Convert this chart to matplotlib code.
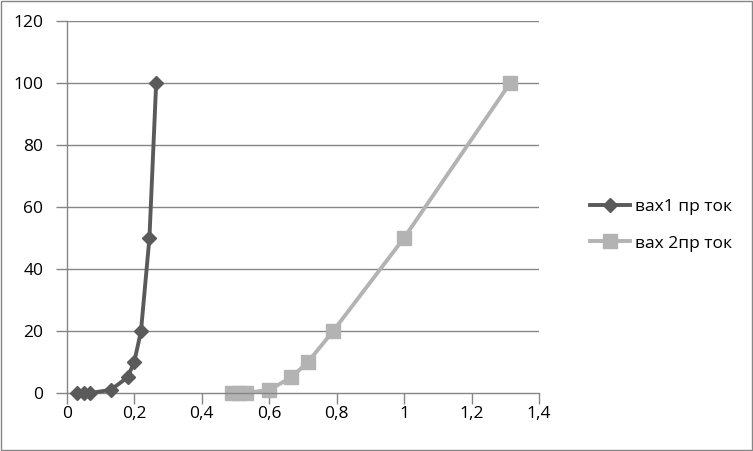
import matplotlib.pyplot as plt
import matplotlib as mpl
from matplotlib.patches import Rectangle

mpl.rcParams["font.family"] = ["Open Sans", "DejaVu Sans"]

# вах1 пр ток
x1 = [0.03, 0.05, 0.07, 0.13, 0.18, 0.20, 0.22, 0.245, 0.265]
y1 = [0, 0, 0, 1, 5, 10, 20, 50, 100]
# вах 2пр ток
x2 = [0.49, 0.51, 0.53, 0.60, 0.665, 0.715, 0.79, 1.00, 1.315]
y2 = [0, 0, 0, 1, 5, 10, 20, 50, 100]

labels = ["вах1 пр ток", "вах 2пр ток"]
xticks = [0, 0.2, 0.4, 0.6, 0.8, 1, 1.2, 1.4]
yticks = [0, 20, 40, 60, 80, 100, 120]

W, H = 753, 451
fig = plt.figure(figsize=(W / 100, H / 100), dpi=100)
ax = fig.add_axes([66.8 / W, 1 - 393 / H, (539 - 66.8) / W, (393 - 20.7) / H])

grid_c = "#868686"
ax.set_xlim(0, 1.4)
ax.set_ylim(0, 120)
for y in yticks[1:]:
    ax.axhline(y, color=grid_c, lw=1, zorder=1)

ax.plot(x1, y1, color="#5a5a5a", lw=2.8, marker="D", ms=7.5,
        label=labels[0], zorder=3, clip_on=False)
ax.plot(x2, y2, color="#b3b3b3", lw=2.8, marker="s", ms=10,
        label=labels[1], zorder=2, clip_on=False)

for s in ["top", "right"]:
    ax.spines[s].set_visible(False)
for s in ["left", "bottom"]:
    ax.spines[s].set_color(grid_c)
    ax.spines[s].set_linewidth(1)

ax.set_xticks(xticks)
ax.set_xticklabels([str(t).replace(".", ",") for t in xticks])
ax.set_yticks(yticks)
ax.set_yticklabels([str(t) for t in yticks])
ax.tick_params(axis="both", direction="out", length=8, width=1, color=grid_c,
               labelsize=12.5, labelcolor="black")
ax.tick_params(axis="x", pad=1)
ax.tick_params(axis="y", pad=9)

leg = ax.legend(loc="center left", bbox_to_anchor=(574 / W, 1 - 225 / H),
                bbox_transform=fig.transFigure, frameon=False, fontsize=12.5,
                handlelength=2.3, labelspacing=1.2, handletextpad=0.3)

fig.patches.append(Rectangle((1 / W, 1 / H), 1 - 2 / W, 1 - 2 / H,
                             transform=fig.transFigure, fill=False,
                             edgecolor="#868686", lw=1))

fig.savefig("out.png", dpi=100)
